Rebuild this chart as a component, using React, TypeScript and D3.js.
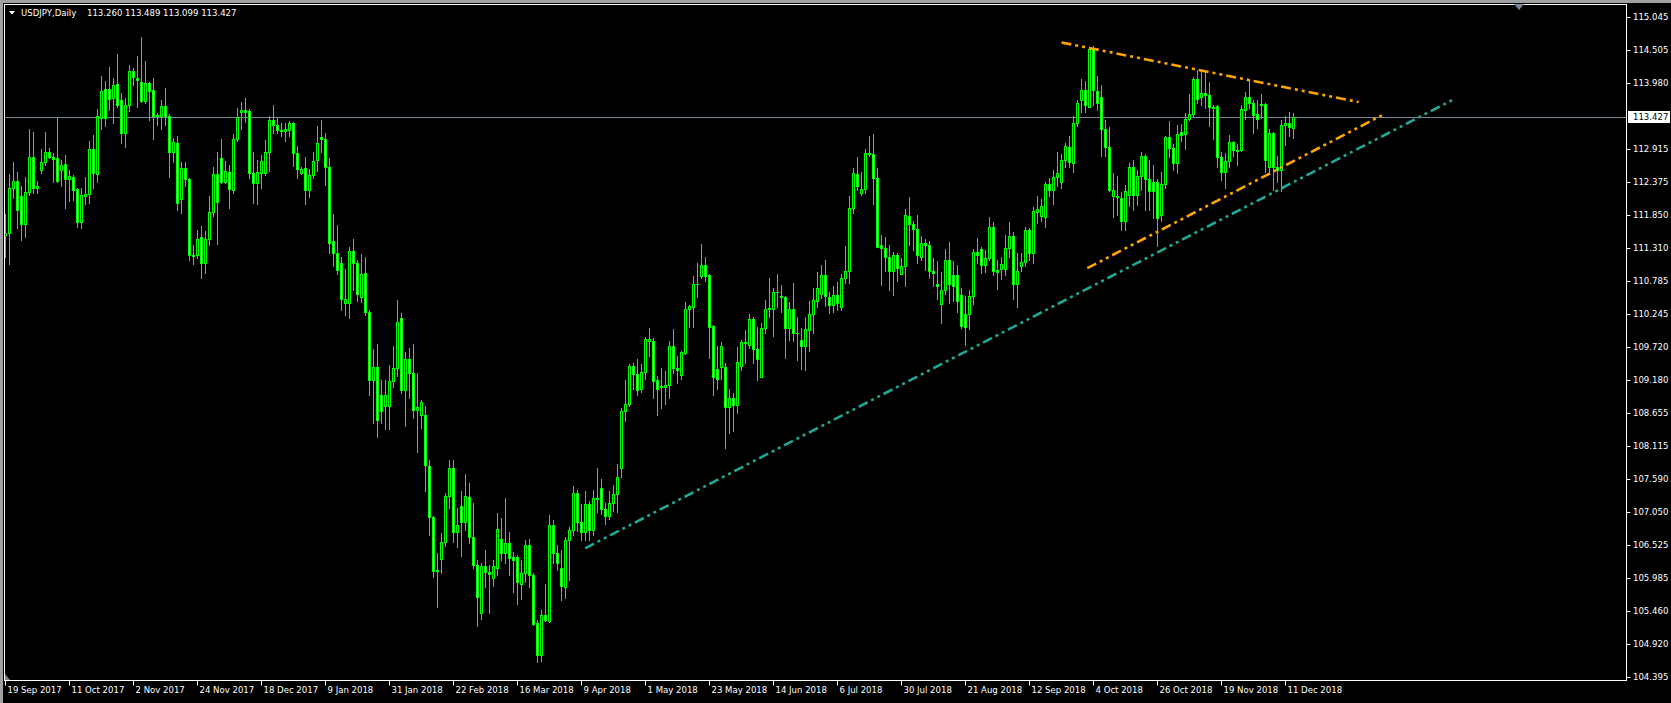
import React from 'react';
import * as d3 from 'd3';

const symbolLabel = 'USDJPY,Daily';
const lastBarText = '113.260 113.489 113.099 113.427';
const currentPrice = 113.427;

const opens = [
111.52,111.56,112.28,112.40,112.15,111.70,112.22,112.78,112.28,112.57,
112.70,112.86,112.78,112.77,112.57,112.67,112.43,112.46,112.27,111.73,
112.16,112.19,112.91,112.51,113.41,113.88,113.88,113.74,113.96,113.70,
113.17,113.62,114.17,114.06,113.99,113.69,113.98,113.87,113.47,113.44,
113.61,113.45,112.86,113.01,112.11,112.61,112.43,111.21,111.21,111.49,
111.07,111.46,111.90,112.51,112.77,112.39,112.55,112.26,113.07,113.52,
113.54,113.53,112.52,112.36,112.52,112.52,112.86,113.38,113.31,113.22,
113.20,113.22,113.34,112.85,112.53,112.61,112.26,112.50,112.73,113.11,
113.07,112.62,111.43,111.24,111.07,110.43,110.43,111.27,111.07,110.53,
110.91,110.28,109.19,109.39,108.94,108.76,108.76,109.17,109.38,110.18,
109.03,109.53,109.30,108.71,108.63,108.63,107.80,106.98,106.10,106.30,
106.57,107.31,107.76,106.73,107.16,106.90,107.30,106.65,106.21,105.43,
106.18,106.09,105.99,106.16,106.62,106.39,106.55,106.33,106.33,105.89,
106.08,106.52,106.04,105.26,104.75,105.39,105.30,106.84,106.40,106.16,
105.85,106.60,106.76,107.37,106.89,106.73,107.18,106.77,107.29,107.45,
107.10,106.99,107.21,107.34,107.76,108.68,108.80,109.41,109.28,109.05,
109.32,109.81,109.81,109.18,109.09,109.07,109.10,109.73,109.38,109.27,
109.63,110.33,110.37,110.73,110.86,111.05,110.88,110.06,109.37,109.39,
109.39,108.75,108.89,108.79,109.42,109.80,109.76,110.17,109.68,109.24,
110.02,110.34,110.33,110.60,110.55,110.52,110.03,110.34,109.94,109.83,
109.73,109.99,110.25,110.47,110.57,110.88,110.53,110.39,110.56,110.37,
110.83,110.95,111.96,112.51,112.20,112.27,112.85,112.83,112.45,111.36,
111.31,111.18,110.95,111.20,110.90,111.02,111.83,111.71,111.63,111.17,
111.40,111.36,110.94,110.73,110.41,110.64,111.13,110.88,110.88,110.56,
110.25,110.25,110.55,111.25,111.30,111.05,111.16,111.65,110.96,110.98,
110.98,111.32,111.51,110.73,111.02,111.09,111.61,111.23,111.90,111.83,
111.82,112.35,112.25,112.47,112.38,112.74,112.95,112.69,113.33,113.70,
113.87,113.60,114.53,113.85,113.76,113.23,112.95,112.15,112.16,112.12,
111.75,112.17,112.62,112.17,112.48,112.81,112.43,112.39,112.39,111.85,
112.35,113.11,112.93,112.69,113.19,113.16,113.40,113.48,114.04,113.76,
113.82,113.78,113.60,113.61,112.78,112.54,112.72,113.03,112.90,112.90,
113.55,113.75,113.66,113.48,113.62,113.64,112.63,113.17,112.63,112.58,
113.30,113.34,113.26
];

const highs = [
111.86,112.51,112.71,112.55,112.32,112.46,113.24,113.19,112.40,112.91,
113.19,112.93,112.85,113.42,112.74,112.82,112.57,112.50,112.29,112.29,
112.46,113.05,113.14,113.56,114.09,114.02,114.24,114.06,114.44,113.82,
113.73,114.27,114.23,114.41,114.72,114.34,113.99,114.06,113.49,113.71,
113.90,113.48,113.09,113.13,112.70,112.70,112.44,111.37,111.61,111.68,
111.59,112.15,112.63,112.86,113.07,112.72,112.66,113.15,113.58,113.67,
113.74,113.56,112.87,112.74,112.82,113.06,113.45,113.63,113.42,113.34,
113.34,113.37,113.35,112.97,112.63,112.79,112.60,112.86,113.28,113.39,
113.18,112.77,111.87,111.69,111.17,110.98,111.34,111.46,111.12,111.22,
111.18,110.32,109.69,109.77,109.19,109.19,109.43,109.74,110.48,110.27,
109.64,109.70,109.77,109.30,108.86,108.77,107.89,106.99,106.39,106.72,
107.36,107.90,107.90,107.12,107.39,107.67,107.52,107.20,106.28,106.23,
106.45,106.20,106.29,107.04,106.96,107.28,106.73,106.41,106.36,106.29,
106.61,106.62,106.07,105.32,105.48,105.89,107.01,106.93,106.52,106.44,
106.65,106.82,107.47,107.42,107.18,107.40,107.23,107.41,107.76,107.59,
107.20,107.39,107.50,107.84,108.74,109.19,109.45,109.46,109.52,109.45,
109.88,110.03,109.86,109.26,109.38,109.33,109.82,110.01,109.57,109.66,
110.45,110.40,110.86,111.07,111.38,111.17,110.90,110.08,109.74,109.80,
109.46,109.05,108.98,109.72,109.84,110.00,110.25,110.21,110.05,110.10,
110.48,110.83,110.68,110.90,110.72,110.55,110.45,110.75,110.20,110.02,
110.20,110.47,110.68,110.93,111.05,111.13,110.60,110.71,110.77,110.90,
111.35,112.16,112.61,112.78,112.55,112.92,113.13,113.16,112.61,111.52,
111.49,111.37,111.25,111.24,111.15,111.95,112.14,111.75,111.85,111.51,
111.46,111.43,111.16,111.11,110.93,111.30,111.42,111.11,111.05,110.68,
110.55,110.64,111.30,111.48,111.34,111.29,111.82,111.74,111.13,111.18,
111.53,111.74,111.58,111.23,111.23,111.66,111.64,111.98,112.16,112.11,
112.39,112.45,112.58,112.87,112.83,113.01,113.13,113.45,113.70,114.05,
114.02,114.54,114.57,114.10,113.94,113.39,113.27,112.53,112.48,112.22,
112.34,112.69,112.73,112.57,112.87,112.84,112.74,112.66,112.43,112.55,
113.13,113.37,113.00,113.31,113.32,113.49,113.81,114.07,114.19,114.19,
114.15,113.99,113.63,113.63,112.86,112.85,113.14,113.05,112.99,113.63,
113.84,114.03,113.70,113.71,113.81,113.65,113.23,113.19,112.80,113.39,
113.45,113.52,113.489
];

const lows = [
111.18,111.06,112.12,111.64,111.45,111.49,112.18,112.20,112.20,112.52,
112.65,112.77,112.39,112.39,112.31,111.97,112.07,112.10,111.66,111.64,
112.03,112.04,112.28,112.38,113.24,113.28,113.55,113.33,113.59,113.01,
112.94,113.53,113.95,113.59,113.67,113.65,113.38,113.07,113.31,113.24,
113.30,112.46,112.71,111.93,111.88,112.31,111.13,111.06,111.15,110.83,
110.91,111.37,111.83,111.38,112.36,112.36,111.97,112.20,113.05,113.23,
113.35,112.44,112.05,112.02,112.29,112.49,112.56,113.18,113.18,113.12,
113.04,113.13,112.64,112.45,112.51,112.03,112.14,112.44,112.56,112.86,
112.34,111.24,111.02,110.89,110.31,110.23,110.18,110.64,110.47,110.44,
110.23,108.95,108.49,108.26,108.49,108.39,108.39,109.08,109.26,108.98,
108.44,108.90,108.57,108.03,108.42,107.39,106.69,106.01,105.53,106.08,
106.51,107.13,106.58,106.50,106.35,106.76,106.55,106.15,105.22,105.33,
105.84,105.43,105.87,106.04,106.29,106.24,106.04,105.77,105.58,105.66,
105.92,105.85,105.23,104.63,104.65,105.30,105.29,106.24,106.12,105.64,
105.67,105.96,106.69,106.75,106.60,106.61,106.61,106.68,107.05,107.02,
106.87,106.95,107.08,107.06,107.63,108.52,108.76,109.05,108.95,109.00,
109.21,109.58,108.90,108.62,108.74,108.80,108.89,109.30,109.14,109.20,
109.61,110.05,110.05,110.53,110.83,110.78,109.54,108.94,109.05,109.20,
108.09,108.33,108.37,108.65,109.35,109.46,109.70,109.46,109.19,109.24,
109.94,110.21,109.90,110.37,110.28,109.54,109.83,109.82,109.51,109.36,
109.35,109.66,109.95,110.36,110.51,110.38,110.27,110.28,110.32,110.32,
110.75,110.75,111.89,112.26,112.18,112.20,112.80,112.03,111.34,110.72,
110.94,110.64,110.56,110.78,110.90,110.71,111.37,111.29,111.08,111.13,
110.97,110.83,110.70,110.49,110.10,110.58,110.43,110.47,110.29,110.02,
109.75,110.01,110.42,111.08,110.92,110.93,111.13,110.88,110.66,110.82,
110.88,111.18,110.50,110.36,110.95,111.02,111.13,111.08,111.72,111.75,
111.65,112.15,112.02,112.31,112.28,112.63,112.62,112.54,113.29,113.51,
113.51,113.59,113.63,113.54,112.81,112.81,112.23,111.82,111.85,111.60,
111.61,112.00,111.93,112.01,112.26,111.93,111.93,111.80,111.35,111.76,
112.28,112.79,112.58,112.53,113.05,112.92,113.39,113.43,113.65,113.63,
113.57,113.28,113.08,112.62,112.41,112.28,112.63,112.80,112.66,112.89,
113.40,113.58,113.17,113.26,113.41,112.55,112.55,112.26,112.39,112.23,
112.98,113.12,113.099
];

const closes = [
111.56,112.28,112.40,111.93,111.70,112.22,112.78,112.28,112.32,112.70,
112.86,112.78,112.76,112.40,112.66,112.43,112.48,112.25,111.73,112.17,
112.19,112.91,112.52,113.45,113.85,113.41,113.72,113.95,113.62,113.17,
113.62,114.17,114.08,114.03,113.69,113.98,113.85,113.44,113.44,113.61,
113.44,112.86,113.03,112.04,112.61,112.43,111.21,111.19,111.46,111.07,
111.46,111.90,112.51,112.06,112.38,112.56,112.27,113.07,113.43,113.54,
113.52,112.52,112.36,112.55,112.72,112.87,113.38,113.31,113.22,113.20,
113.23,113.34,112.85,112.60,112.59,112.26,112.50,112.72,113.01,113.07,
112.62,111.40,111.24,110.96,110.50,110.50,111.27,111.07,110.57,110.90,
110.28,109.19,109.39,108.54,108.68,108.94,109.17,109.38,110.12,109.03,
109.53,109.30,108.71,108.75,108.84,107.81,106.98,106.10,106.12,106.57,
107.31,107.76,106.73,106.84,106.90,107.31,106.65,106.21,105.69,106.18,
106.09,106.05,106.18,106.78,106.39,106.55,106.31,106.29,105.93,106.08,
106.52,106.04,105.25,104.75,105.39,105.32,106.84,106.40,106.23,105.87,
106.60,106.76,107.37,106.89,106.73,107.18,106.77,107.29,107.26,107.10,
106.99,107.21,107.34,107.62,108.69,108.80,109.41,109.28,109.02,109.32,
109.85,109.85,109.17,109.05,109.07,109.11,109.73,109.38,109.35,109.64,
110.33,110.38,110.73,110.74,111.05,110.87,110.05,109.23,109.21,109.74,
108.75,108.89,108.79,109.47,109.80,109.78,110.17,109.68,109.52,110.02,
110.34,110.35,110.60,110.61,110.53,110.03,110.34,109.94,109.95,109.73,
110.01,110.25,110.48,110.67,110.88,110.55,110.39,110.56,110.43,110.83,
110.95,111.96,112.53,112.31,112.27,112.85,112.83,112.45,111.34,111.32,
111.18,110.95,111.20,110.99,111.02,111.85,111.70,111.63,111.20,111.40,
111.37,110.94,110.91,110.70,110.64,111.13,110.73,110.71,110.46,110.06,
110.04,110.55,111.25,111.20,111.04,111.16,111.65,110.94,110.93,111.06,
111.32,111.51,110.73,110.95,111.09,111.61,111.23,111.91,111.94,111.99,
112.35,112.25,112.46,112.53,112.74,112.96,112.70,113.33,113.66,113.87,
113.62,114.53,113.87,113.66,113.23,112.95,112.25,112.25,112.14,111.75,
112.23,112.62,112.17,112.48,112.81,112.43,112.23,112.23,111.80,112.35,
113.11,112.93,112.69,113.16,113.14,113.40,113.48,114.04,113.72,113.82,
113.78,113.59,113.58,112.78,112.54,112.72,113.03,112.90,112.89,113.56,
113.75,113.66,113.47,113.40,113.64,112.74,113.17,112.63,112.58,113.30,
113.34,113.27,113.427
];

// date labels, one every 16 bars
const dateLabels = [
  '19 Sep 2017', '11 Oct 2017', '2 Nov 2017', '24 Nov 2017', '18 Dec 2017',
  '9 Jan 2018', '31 Jan 2018', '22 Feb 2018', '16 Mar 2018', '9 Apr 2018',
  '1 May 2018', '23 May 2018', '14 Jun 2018', '6 Jul 2018', '30 Jul 2018',
  '21 Aug 2018', '12 Sep 2018', '4 Oct 2018', '26 Oct 2018', '19 Nov 2018',
  '11 Dec 2018'
];
const labelStep = 16;

const priceTicks = [
  115.045, 114.505, 113.980, 112.915, 112.375, 111.850, 111.310, 110.785,
  110.245, 109.720, 109.180, 108.655, 108.115, 107.590, 107.050, 106.525,
  105.985, 105.460, 104.920, 104.395
];

// trend lines: [bar index, price]
const upperLine: [number, number][] = [[264.0, 114.635], [338.3, 113.672]];
const lowerLine: [number, number][] = [[270.45, 110.992], [344.1, 113.459]];
const supportLine: [number, number][] = [[144.9, 106.472], [362.55, 113.734]];

const LIME = '#00ff00';
const FONT = "'DejaVu Sans Condensed', 'Liberation Sans', Arial, sans-serif";

export default function App() {
  const W = 1671, H = 703;
  const left = 4.5, top = 4.5, right = 1626.5, bottom = 680.5;
  const n = closes.length;
  const x = d3.scaleLinear().domain([0, n - 1]).range([5.5, 5.5 + 4 * (n - 1)]);
  const y = d3.scaleLinear().domain([104.395, 115.045]).range([677, 17]);
  const line = d3.line<[number, number]>().x(d => x(d[0])).y(d => y(d[1]));

  const candles = d3.range(n).map(i => {
    const o = opens[i], c = closes[i];
    const hi = Math.max(highs[i], o, c), lo = Math.min(lows[i], o, c);
    const cx = x(i);
    const yH = Math.round(y(hi)), yL = Math.round(y(lo));
    const yT = Math.round(y(Math.max(o, c))), yB = Math.round(y(Math.min(o, c)));
    const bull = c >= o;
    return (
      <g key={i}>
        <line x1={cx} x2={cx} y1={yH} y2={yL + 1} stroke={LIME} strokeWidth={1} />
        {yB - yT >= 1 ? (
          <rect x={cx - 1} y={yT + 0.5} width={2} height={yB - yT}
            fill={bull ? '#000' : '#fff'} stroke={LIME} strokeWidth={1} />
        ) : (
          <line x1={cx - 1.5} x2={cx + 1.5} y1={yT + 0.5} y2={yT + 0.5} stroke={LIME} strokeWidth={1} />
        )}
      </g>
    );
  });

  const cpY = Math.round(y(currentPrice)) + 0.5;
  const dash = '10,4,3,4,3,4';

  return (
    <svg width={W} height={H} style={{ position: 'absolute', left: 0, top: 0, display: 'block' }}
      xmlns="http://www.w3.org/2000/svg">
      <defs>
        <clipPath id="plot">
          <rect x={left + 0.5} y={top + 0.5} width={right - left - 1} height={bottom - top - 1} />
        </clipPath>
      </defs>
      <rect x={0} y={0} width={W} height={H} fill="#000" />
      <rect x={0} y={0} width={W} height={3} fill="#a0a0a0" />
      <rect x={0} y={0} width={3} height={H} fill="#a0a0a0" />
      <rect x={left} y={top} width={right - left} height={bottom - top} fill="none" stroke="#fff" strokeWidth={1} />

      <g clipPath="url(#plot)">
        <line x1={left} x2={right} y1={cpY} y2={cpY} stroke="#778899" strokeWidth={1} />
        <g shapeRendering="crispEdges">{candles}</g>
        <path d={line(supportLine) || ''} stroke="#1ea896" strokeWidth={2.6} strokeDasharray={dash} fill="none" />
        <path d={line(upperLine) || ''} stroke="#ffa500" strokeWidth={2.6} strokeDasharray={dash} fill="none" />
        <path d={line(lowerLine) || ''} stroke="#ffa500" strokeWidth={2.6} strokeDasharray={dash} fill="none" />
      </g>

      {/* header */}
      <path d="M9,11 L15,11 L12,14.5 Z" fill="#fff" />
      <text x={21} y={13} dominantBaseline="middle" fill="#fff" fontFamily={FONT} fontSize={9.5}>{symbolLabel}</text>
      <text x={87} y={13} dominantBaseline="middle" fill="#fff" fontFamily={FONT} fontSize={9.5}>{lastBarText}</text>

      {/* chart shift marker & scroll marker */}
      <path d="M1514,4 L1524,4 L1519,10 Z" fill="#778899" />
      <path d="M5,674 L5,680 L10,680 Z" fill="#778899" />

      {/* price axis */}
      <g fontFamily={FONT} fontSize={9.5} fill="#fff">
        {priceTicks.map(v => {
          const yy = Math.round(y(v)) + 0.5;
          return (
            <g key={v}>
              <line x1={right} x2={right + 4} y1={yy} y2={yy} stroke="#fff" strokeWidth={1} />
              <text x={1633} y={yy} dominantBaseline="middle">{v.toFixed(3)}</text>
            </g>
          );
        })}
        <rect x={1628} y={cpY - 6.5} width={42} height={12} fill="#fff" />
        <text x={1633} y={cpY} dominantBaseline="middle" fill="#000">{currentPrice.toFixed(3)}</text>
      </g>

      {/* time axis */}
      <g fontFamily={FONT} fontSize={9.5} fill="#fff">
        {dateLabels.map((lab, k) => {
          const xx = x(k * labelStep);
          return (
            <g key={lab}>
              <line x1={xx} x2={xx} y1={bottom} y2={bottom + 5} stroke="#fff" strokeWidth={1} />
              <text x={xx + 2} y={690} dominantBaseline="middle">{lab}</text>
            </g>
          );
        })}
      </g>
    </svg>
  );
}
